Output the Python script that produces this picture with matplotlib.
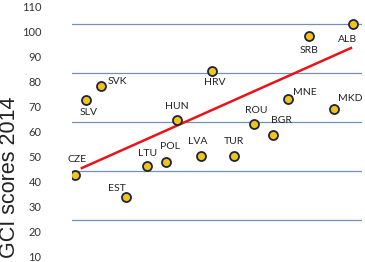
import numpy as np
import matplotlib
matplotlib.use("Agg")
import matplotlib.pyplot as plt

# countries and their values (x has no scale shown)
countries = ["CZE", "EST", "LTU", "POL", "LVA", "TUR", "BGR", "ROU", "HUN",
             "MNE", "MKD", "SLV", "SVK", "HRV", "SRB", "ALB"]
x_vals = [1.0, 18.6, 25.9, 32.4, 44.5, 55.9, 69.3, 62.8, 36.2,
          74.5, 90.3, 4.8, 10.0, 48.3, 81.7, 96.9]
gci_2014 = [38.4, 29.4, 42.0, 43.7, 46.1, 46.1, 54.7, 59.2, 60.8,
            69.4, 65.3, 69.0, 74.7, 80.8, 95.1, 100.0]

# trend line end points
trend_x = [3.4, 96.2]
trend_y = [41.2, 90.2]

y_ticks = [10, 20, 30, 40, 50, 60, 70, 80, 90, 100, 110]
grid_levels = [20, 40, 60, 80, 100]

# label offsets in pixels (layout only)
offsets = {
    "CZE": (2, 15), "EST": (-9, 8), "LTU": (0, 13), "POL": (4, 15),
    "LVA": (-3, 15), "TUR": (0, 15), "BGR": (8, 14), "ROU": (2, 13),
    "HUN": (0, 14), "MNE": (17, 6), "MKD": (16, 11), "SLV": (3, -13),
    "SVK": (16, 4), "HRV": (3, -11), "SRB": (0, -14), "ALB": (-5, -15),
}

fig = plt.figure(figsize=(3.65, 2.62), dpi=100)
ax = fig.add_axes([72 / 365, 0, 290 / 365, 1])
ax.set_xlim(0, 100)
ax.set_ylim(2.86, 109.8)

for lv in grid_levels:
    ax.axhline(lv, color="#5a7db0", lw=0.9, alpha=0.85, zorder=1)

ax.plot(trend_x, trend_y, color="#e8141b", lw=1.8, zorder=2)
ax.scatter(x_vals, gci_2014, s=42, c="#f0c419", edgecolors="#1c2340",
           linewidths=1.3, zorder=3)

for name, xv, yv in zip(countries, x_vals, gci_2014):
    dx, dy = offsets[name]
    ax.annotate(name, (xv, yv), xytext=(dx, dy), textcoords="offset pixels",
                ha="center", va="center", fontsize=7.5, family="Lato",
                color="#222222")

ax.set_xticks([])
ax.set_yticks([])
for s in ax.spines.values():
    s.set_visible(False)

# separate axis carrying the y tick labels
ax2 = ax.twinx()
ax2.set_ylim(8.0, 112.4)
ax2.yaxis.tick_left()
ax2.set_yticks(y_ticks)
ax2.tick_params(axis="y", length=0, pad=22, labelsize=8)
for lbl in ax2.get_yticklabels():
    lbl.set_family("Lato")
    lbl.set_color("#333333")
for s in ax2.spines.values():
    s.set_visible(False)
ax2.set_xticks([])

fig.text(10 / 365, 1 - 177 / 262, "GCI scores 2014", rotation=90, ha="center",
         va="center", fontsize=15.5, family="Liberation Sans", color="#222222")

fig.savefig("out.png", dpi=100)
